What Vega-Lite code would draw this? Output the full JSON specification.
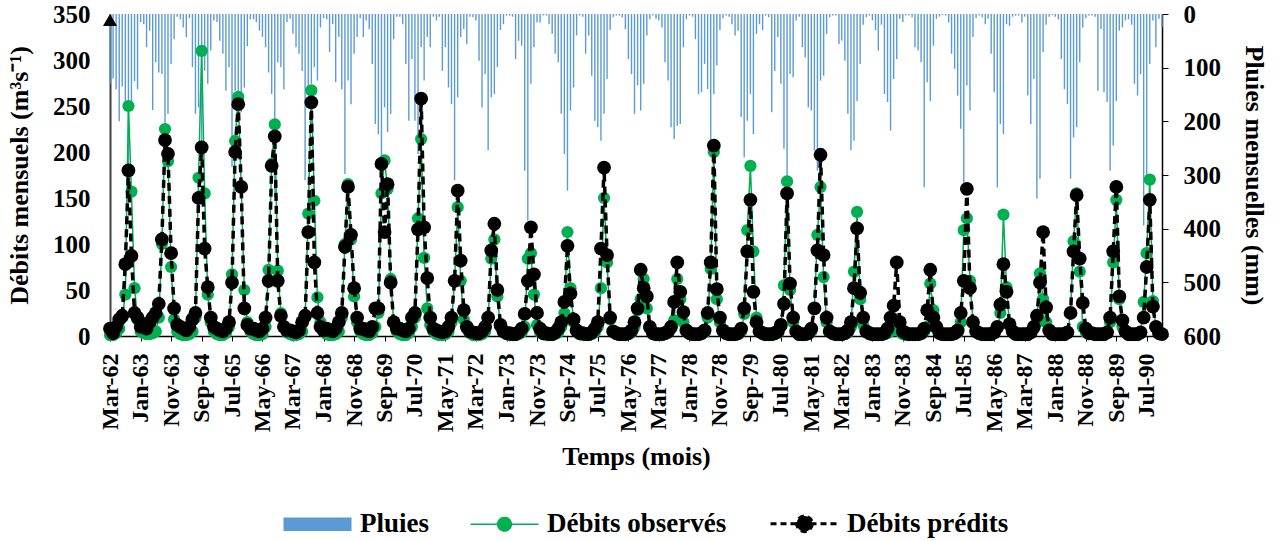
{
"$schema":"https://vega.github.io/schema/vega-lite/v6.json",
"width":1052,"height":322,
"autosize":{"type":"none"},
"padding":{"left":110,"top":14,"right":119,"bottom":205},
"background":"#ffffff",
"config":{"view":{"stroke":null},"font":"Liberation Serif","axis":{"grid":false,"labelFont":"Liberation Serif","titleFont":"Liberation Serif","labelFontWeight":"bold","titleFontWeight":"bold","labelColor":"#000000","titleColor":"#000000"}},
"data":{"values":[
{"d":"1962-03","r":130,"o":1,"s":8},{"d":"1962-04","r":120,"o":1,"s":3},{"d":"1962-05","r":140,"o":3,"s":10},{"d":"1962-06","r":200,"o":8,"s":18},{"d":"1962-07","r":135,"o":20,"s":22},{"d":"1962-08","r":165,"o":45,"s":78},{"d":"1962-09","r":285,"o":250,"s":180},{"d":"1962-10","r":165,"o":157,"s":87},{"d":"1962-11","r":125,"o":52,"s":25},{"d":"1962-12","r":140,"o":18,"s":20},
{"d":"1963-01","r":15,"o":5,"s":10},{"d":"1963-02","r":19,"o":3,"s":12},{"d":"1963-03","r":62,"o":2,"s":8},{"d":"1963-04","r":31,"o":2,"s":15},{"d":"1963-05","r":179,"o":3,"s":20},{"d":"1963-06","r":90,"o":5,"s":25},{"d":"1963-07","r":109,"o":20,"s":35},{"d":"1963-08","r":112,"o":100,"s":105},{"d":"1963-09","r":292,"o":225,"s":213},{"d":"1963-10","r":186,"o":190,"s":198},{"d":"1963-11","r":93,"o":75,"s":90},{"d":"1963-12","r":47,"o":18,"s":30},
{"d":"1964-01","r":5,"o":5,"s":12},{"d":"1964-02","r":10,"o":2,"s":10},{"d":"1964-03","r":25,"o":1,"s":8},{"d":"1964-04","r":43,"o":1,"s":6},{"d":"1964-05","r":8,"o":2,"s":10},{"d":"1964-06","r":99,"o":5,"s":18},{"d":"1964-07","r":186,"o":20,"s":25},{"d":"1964-08","r":174,"o":172,"s":150},{"d":"1964-09","r":242,"o":310,"s":205},{"d":"1964-10","r":106,"o":155,"s":95},{"d":"1964-11","r":130,"o":45,"s":53},{"d":"1964-12","r":68,"o":15,"s":20},
{"d":"1965-01","r":12,"o":5,"s":10},{"d":"1965-02","r":15,"o":2,"s":8},{"d":"1965-03","r":50,"o":1,"s":6},{"d":"1965-04","r":74,"o":1,"s":5},{"d":"1965-05","r":143,"o":3,"s":8},{"d":"1965-06","r":99,"o":10,"s":15},{"d":"1965-07","r":285,"o":67,"s":58},{"d":"1965-08","r":143,"o":212,"s":200},{"d":"1965-09","r":199,"o":260,"s":252},{"d":"1965-10","r":183,"o":162,"s":162},{"d":"1965-11","r":137,"o":50,"s":30},{"d":"1965-12","r":60,"o":15,"s":12},
{"d":"1966-01","r":10,"o":5,"s":8},{"d":"1966-02","r":10,"o":2,"s":8},{"d":"1966-03","r":15,"o":1,"s":6},{"d":"1966-04","r":31,"o":1,"s":5},{"d":"1966-05","r":43,"o":2,"s":8},{"d":"1966-06","r":62,"o":10,"s":20},{"d":"1966-07","r":109,"o":72,"s":60},{"d":"1966-08","r":149,"o":187,"s":185},{"d":"1966-09","r":341,"o":230,"s":217},{"d":"1966-10","r":90,"o":71,"s":60},{"d":"1966-11","r":99,"o":25,"s":22},{"d":"1966-12","r":140,"o":10,"s":10},
{"d":"1967-01","r":15,"o":4,"s":6},{"d":"1967-02","r":9,"o":2,"s":6},{"d":"1967-03","r":37,"o":1,"s":5},{"d":"1967-04","r":62,"o":1,"s":4},{"d":"1967-05","r":74,"o":2,"s":6},{"d":"1967-06","r":106,"o":5,"s":15},{"d":"1967-07","r":310,"o":20,"s":22},{"d":"1967-08","r":137,"o":133,"s":113},{"d":"1967-09","r":130,"o":267,"s":254},{"d":"1967-10","r":99,"o":147,"s":80},{"d":"1967-11","r":124,"o":42,"s":25},{"d":"1967-12","r":25,"o":15,"s":10},
{"d":"1968-01","r":8,"o":5,"s":6},{"d":"1968-02","r":10,"o":2,"s":8},{"d":"1968-03","r":71,"o":1,"s":6},{"d":"1968-04","r":19,"o":1,"s":5},{"d":"1968-05","r":127,"o":2,"s":8},{"d":"1968-06","r":43,"o":5,"s":15},{"d":"1968-07","r":140,"o":20,"s":25},{"d":"1968-08","r":298,"o":100,"s":97},{"d":"1968-09","r":124,"o":165,"s":162},{"d":"1968-10","r":168,"o":105,"s":110},{"d":"1968-11","r":74,"o":43,"s":52},{"d":"1968-12","r":43,"o":15,"s":20},
{"d":"1969-01","r":8,"o":5,"s":8},{"d":"1969-02","r":43,"o":2,"s":8},{"d":"1969-03","r":12,"o":1,"s":6},{"d":"1969-04","r":28,"o":1,"s":5},{"d":"1969-05","r":93,"o":3,"s":10},{"d":"1969-06","r":205,"o":10,"s":30},{"d":"1969-07","r":224,"o":25,"s":30},{"d":"1969-08","r":264,"o":155,"s":187},{"d":"1969-09","r":174,"o":191,"s":113},{"d":"1969-10","r":220,"o":160,"s":165},{"d":"1969-11","r":186,"o":62,"s":58},{"d":"1969-12","r":47,"o":15,"s":15},
{"d":"1970-01","r":5,"o":5,"s":8},{"d":"1970-02","r":5,"o":2,"s":8},{"d":"1970-03","r":19,"o":1,"s":6},{"d":"1970-04","r":93,"o":1,"s":5},{"d":"1970-05","r":199,"o":3,"s":8},{"d":"1970-06","r":84,"o":10,"s":20},{"d":"1970-07","r":199,"o":20,"s":25},{"d":"1970-08","r":261,"o":128,"s":116},{"d":"1970-09","r":62,"o":214,"s":258},{"d":"1970-10","r":124,"o":85,"s":118},{"d":"1970-11","r":43,"o":30,"s":63},{"d":"1970-12","r":62,"o":12,"s":20},
{"d":"1971-01","r":5,"o":5,"s":8},{"d":"1971-02","r":12,"o":2,"s":6},{"d":"1971-03","r":5,"o":1,"s":5},{"d":"1971-04","r":106,"o":1,"s":4},{"d":"1971-05","r":62,"o":2,"s":5},{"d":"1971-06","r":137,"o":5,"s":10},{"d":"1971-07","r":168,"o":15,"s":20},{"d":"1971-08","r":310,"o":60,"s":60},{"d":"1971-09","r":155,"o":140,"s":158},{"d":"1971-10","r":43,"o":60,"s":82},{"d":"1971-11","r":28,"o":18,"s":28},{"d":"1971-12","r":56,"o":8,"s":10},
{"d":"1972-01","r":5,"o":3,"s":5},{"d":"1972-02","r":6,"o":1,"s":4},{"d":"1972-03","r":12,"o":1,"s":3},{"d":"1972-04","r":87,"o":1,"s":3},{"d":"1972-05","r":174,"o":2,"s":5},{"d":"1972-06","r":112,"o":5,"s":10},{"d":"1972-07","r":254,"o":20,"s":20},{"d":"1972-08","r":155,"o":84,"s":93},{"d":"1972-09","r":149,"o":105,"s":122},{"d":"1972-10","r":99,"o":43,"s":50},{"d":"1972-11","r":30,"o":10,"s":12},{"d":"1972-12","r":19,"o":5,"s":5},
{"d":"1973-01","r":3,"o":2,"s":3},{"d":"1973-02","r":3,"o":1,"s":3},{"d":"1973-03","r":5,"o":1,"s":2},{"d":"1973-04","r":84,"o":1,"s":2},{"d":"1973-05","r":50,"o":2,"s":4},{"d":"1973-06","r":59,"o":4,"s":8},{"d":"1973-07","r":292,"o":10,"s":24},{"d":"1973-08","r":385,"o":84,"s":60},{"d":"1973-09","r":130,"o":90,"s":118},{"d":"1973-10","r":62,"o":45,"s":67},{"d":"1973-11","r":16,"o":12,"s":25},{"d":"1973-12","r":16,"o":4,"s":8},
{"d":"1974-01","r":3,"o":2,"s":3},{"d":"1974-02","r":3,"o":1,"s":3},{"d":"1974-03","r":19,"o":1,"s":2},{"d":"1974-04","r":37,"o":1,"s":2},{"d":"1974-05","r":74,"o":2,"s":4},{"d":"1974-06","r":90,"o":4,"s":8},{"d":"1974-07","r":186,"o":10,"s":15},{"d":"1974-08","r":261,"o":25,"s":37},{"d":"1974-09","r":329,"o":113,"s":98},{"d":"1974-10","r":180,"o":52,"s":46},{"d":"1974-11","r":137,"o":15,"s":18},{"d":"1974-12","r":40,"o":5,"s":6},
{"d":"1975-01","r":3,"o":2,"s":3},{"d":"1975-02","r":5,"o":1,"s":3},{"d":"1975-03","r":74,"o":1,"s":2},{"d":"1975-04","r":40,"o":1,"s":2},{"d":"1975-05","r":115,"o":2,"s":4},{"d":"1975-06","r":199,"o":4,"s":8},{"d":"1975-07","r":211,"o":10,"s":15},{"d":"1975-08","r":236,"o":52,"s":95},{"d":"1975-09","r":186,"o":150,"s":183},{"d":"1975-10","r":121,"o":80,"s":88},{"d":"1975-11","r":30,"o":18,"s":20},{"d":"1975-12","r":6,"o":5,"s":5},
{"d":"1976-01","r":3,"o":2,"s":3},{"d":"1976-02","r":3,"o":1,"s":2},{"d":"1976-03","r":6,"o":1,"s":2},{"d":"1976-04","r":28,"o":1,"s":2},{"d":"1976-05","r":84,"o":2,"s":3},{"d":"1976-06","r":112,"o":4,"s":6},{"d":"1976-07","r":186,"o":10,"s":15},{"d":"1976-08","r":133,"o":28,"s":30},{"d":"1976-09","r":180,"o":40,"s":72},{"d":"1976-10","r":130,"o":62,"s":52},{"d":"1976-11","r":40,"o":30,"s":43},{"d":"1976-12","r":10,"o":8,"s":10},
{"d":"1977-01","r":3,"o":2,"s":3},{"d":"1977-02","r":9,"o":1,"s":2},{"d":"1977-03","r":12,"o":1,"s":2},{"d":"1977-04","r":25,"o":1,"s":2},{"d":"1977-05","r":90,"o":2,"s":3},{"d":"1977-06","r":124,"o":3,"s":5},{"d":"1977-07","r":211,"o":8,"s":10},{"d":"1977-08","r":233,"o":17,"s":37},{"d":"1977-09","r":208,"o":62,"s":80},{"d":"1977-10","r":205,"o":40,"s":48},{"d":"1977-11","r":62,"o":15,"s":26},{"d":"1977-12","r":10,"o":5,"s":6},
{"d":"1978-01","r":3,"o":2,"s":3},{"d":"1978-02","r":5,"o":1,"s":2},{"d":"1978-03","r":47,"o":1,"s":2},{"d":"1978-04","r":149,"o":1,"s":2},{"d":"1978-05","r":146,"o":2,"s":3},{"d":"1978-06","r":93,"o":4,"s":6},{"d":"1978-07","r":140,"o":20,"s":25},{"d":"1978-08","r":242,"o":73,"s":80},{"d":"1978-09","r":149,"o":200,"s":207},{"d":"1978-10","r":96,"o":40,"s":51},{"d":"1978-11","r":30,"o":15,"s":20},{"d":"1978-12","r":8,"o":5,"s":6},
{"d":"1979-01","r":3,"o":2,"s":3},{"d":"1979-02","r":5,"o":1,"s":2},{"d":"1979-03","r":19,"o":1,"s":2},{"d":"1979-04","r":40,"o":1,"s":2},{"d":"1979-05","r":31,"o":2,"s":3},{"d":"1979-06","r":192,"o":5,"s":8},{"d":"1979-07","r":267,"o":24,"s":30},{"d":"1979-08","r":199,"o":115,"s":92},{"d":"1979-09","r":149,"o":185,"s":148},{"d":"1979-10","r":224,"o":92,"s":48},{"d":"1979-11","r":37,"o":20,"s":15},{"d":"1979-12","r":19,"o":5,"s":5},
{"d":"1980-01","r":30,"o":2,"s":3},{"d":"1980-02","r":3,"o":1,"s":2},{"d":"1980-03","r":6,"o":1,"s":2},{"d":"1980-04","r":183,"o":1,"s":2},{"d":"1980-05","r":106,"o":2,"s":3},{"d":"1980-06","r":43,"o":3,"s":5},{"d":"1980-07","r":130,"o":10,"s":12},{"d":"1980-08","r":251,"o":55,"s":35},{"d":"1980-09","r":372,"o":168,"s":155},{"d":"1980-10","r":112,"o":50,"s":57},{"d":"1980-11","r":118,"o":15,"s":20},{"d":"1980-12","r":12,"o":5,"s":5},
{"d":"1981-01","r":5,"o":1,"s":2},{"d":"1981-02","r":62,"o":1,"s":2},{"d":"1981-03","r":81,"o":1,"s":2},{"d":"1981-04","r":174,"o":2,"s":3},{"d":"1981-05","r":180,"o":5,"s":8},{"d":"1981-06","r":254,"o":30,"s":30},{"d":"1981-07","r":292,"o":110,"s":93},{"d":"1981-08","r":124,"o":162,"s":197},{"d":"1981-09","r":115,"o":64,"s":88},{"d":"1981-10","r":37,"o":15,"s":20},{"d":"1981-11","r":6,"o":5,"s":5},{"d":"1981-12","r":3,"o":2,"s":3},
{"d":"1982-01","r":3,"o":1,"s":2},{"d":"1982-02","r":56,"o":1,"s":2},{"d":"1982-03","r":50,"o":1,"s":2},{"d":"1982-04","r":87,"o":2,"s":3},{"d":"1982-05","r":186,"o":4,"s":6},{"d":"1982-06","r":254,"o":10,"s":15},{"d":"1982-07","r":236,"o":70,"s":52},{"d":"1982-08","r":162,"o":135,"s":117},{"d":"1982-09","r":93,"o":40,"s":47},{"d":"1982-10","r":20,"o":12,"s":20},{"d":"1982-11","r":6,"o":4,"s":5},{"d":"1982-12","r":3,"o":2,"s":3},
{"d":"1983-01","r":12,"o":1,"s":2},{"d":"1983-02","r":30,"o":1,"s":2},{"d":"1983-03","r":68,"o":1,"s":2},{"d":"1983-04","r":20,"o":1,"s":2},{"d":"1983-05","r":149,"o":2,"s":3},{"d":"1983-06","r":164,"o":3,"s":8},{"d":"1983-07","r":217,"o":5,"s":20},{"d":"1983-08","r":121,"o":10,"s":33},{"d":"1983-09","r":84,"o":18,"s":80},{"d":"1983-10","r":9,"o":5,"s":15},{"d":"1983-11","r":15,"o":2,"s":5},{"d":"1983-12","r":3,"o":1,"s":3},
{"d":"1984-01","r":3,"o":1,"s":2},{"d":"1984-02","r":6,"o":1,"s":2},{"d":"1984-03","r":62,"o":1,"s":2},{"d":"1984-04","r":68,"o":1,"s":2},{"d":"1984-05","r":90,"o":2,"s":3},{"d":"1984-06","r":323,"o":5,"s":8},{"d":"1984-07","r":127,"o":10,"s":28},{"d":"1984-08","r":162,"o":57,"s":72},{"d":"1984-09","r":59,"o":28,"s":20},{"d":"1984-10","r":9,"o":8,"s":10},{"d":"1984-11","r":5,"o":3,"s":3},{"d":"1984-12","r":2,"o":1,"s":2},
{"d":"1985-01","r":3,"o":1,"s":2},{"d":"1985-02","r":16,"o":1,"s":2},{"d":"1985-03","r":74,"o":1,"s":2},{"d":"1985-04","r":102,"o":2,"s":3},{"d":"1985-05","r":152,"o":4,"s":6},{"d":"1985-06","r":214,"o":15,"s":25},{"d":"1985-07","r":314,"o":115,"s":60},{"d":"1985-08","r":133,"o":128,"s":160},{"d":"1985-09","r":180,"o":60,"s":52},{"d":"1985-10","r":43,"o":15,"s":15},{"d":"1985-11","r":8,"o":5,"s":5},{"d":"1985-12","r":3,"o":2,"s":3},
{"d":"1986-01","r":6,"o":1,"s":2},{"d":"1986-02","r":19,"o":1,"s":2},{"d":"1986-03","r":9,"o":1,"s":2},{"d":"1986-04","r":74,"o":1,"s":2},{"d":"1986-05","r":146,"o":3,"s":4},{"d":"1986-06","r":323,"o":8,"s":10},{"d":"1986-07","r":205,"o":25,"s":34},{"d":"1986-08","r":224,"o":132,"s":78},{"d":"1986-09","r":19,"o":53,"s":48},{"d":"1986-10","r":22,"o":12,"s":13},{"d":"1986-11","r":5,"o":4,"s":5},{"d":"1986-12","r":3,"o":2,"s":2},
{"d":"1987-01","r":3,"o":1,"s":2},{"d":"1987-02","r":16,"o":1,"s":2},{"d":"1987-03","r":5,"o":1,"s":2},{"d":"1987-04","r":152,"o":1,"s":2},{"d":"1987-05","r":205,"o":3,"s":4},{"d":"1987-06","r":121,"o":8,"s":10},{"d":"1987-07","r":344,"o":15,"s":22},{"d":"1987-08","r":307,"o":68,"s":58},{"d":"1987-09","r":71,"o":40,"s":113},{"d":"1987-10","r":20,"o":15,"s":31},{"d":"1987-11","r":5,"o":5,"s":6},{"d":"1987-12","r":2,"o":2,"s":2},
{"d":"1988-01","r":5,"o":1,"s":2},{"d":"1988-02","r":10,"o":1,"s":2},{"d":"1988-03","r":84,"o":1,"s":2},{"d":"1988-04","r":140,"o":1,"s":2},{"d":"1988-05","r":168,"o":3,"s":4},{"d":"1988-06","r":307,"o":25,"s":25},{"d":"1988-07","r":230,"o":103,"s":92},{"d":"1988-08","r":211,"o":155,"s":153},{"d":"1988-09","r":90,"o":70,"s":84},{"d":"1988-10","r":25,"o":10,"s":36},{"d":"1988-11","r":8,"o":4,"s":8},{"d":"1988-12","r":3,"o":2,"s":3},
{"d":"1989-01","r":3,"o":2,"s":3},{"d":"1989-02","r":5,"o":1,"s":2},{"d":"1989-03","r":143,"o":1,"s":2},{"d":"1989-04","r":28,"o":1,"s":2},{"d":"1989-05","r":146,"o":1,"s":2},{"d":"1989-06","r":164,"o":3,"s":4},{"d":"1989-07","r":292,"o":15,"s":20},{"d":"1989-08","r":245,"o":80,"s":92},{"d":"1989-09","r":162,"o":148,"s":162},{"d":"1989-10","r":31,"o":40,"s":43},{"d":"1989-11","r":25,"o":10,"s":17},{"d":"1989-12","r":12,"o":4,"s":5},
{"d":"1990-01","r":10,"o":1,"s":2},{"d":"1990-02","r":20,"o":1,"s":2},{"d":"1990-03","r":130,"o":1,"s":2},{"d":"1990-04","r":152,"o":1,"s":2},{"d":"1990-05","r":112,"o":3,"s":4},{"d":"1990-06","r":394,"o":37,"s":20},{"d":"1990-07","r":304,"o":90,"s":75},{"d":"1990-08","r":93,"o":170,"s":148},{"d":"1990-09","r":12,"o":38,"s":32},{"d":"1990-10","r":62,"o":10,"s":10},{"d":"1990-11","r":9,"o":4,"s":3},{"d":"1990-12","r":25,"o":2,"s":2}
]},
"encoding":{
 "x":{"field":"d","type":"temporal",
  "scale":{"type":"utc","nice":false,"domain":[{"year":1962,"month":3,"date":1,"utc":true},{"year":1990,"month":12,"date":1,"utc":true}]},
  "axis":{"title":"Temps (mois)","format":"%b-%y","labelAngle":-90,"labelFontSize":24,"titleFontSize":26,"labelPadding":12,"tickSize":5,"tickColor":"#000000","domainColor":"#000000","domainWidth":1.5,"titlePadding":12,"labelOverlap":false,"labelFlush":false,
   "values":[{"year":1962,"month":3,"date":1,"utc":true},{"year":1963,"month":1,"date":1,"utc":true},{"year":1963,"month":11,"date":1,"utc":true},{"year":1964,"month":9,"date":1,"utc":true},{"year":1965,"month":7,"date":1,"utc":true},{"year":1966,"month":5,"date":1,"utc":true},{"year":1967,"month":3,"date":1,"utc":true},{"year":1968,"month":1,"date":1,"utc":true},{"year":1968,"month":11,"date":1,"utc":true},{"year":1969,"month":9,"date":1,"utc":true},{"year":1970,"month":7,"date":1,"utc":true},{"year":1971,"month":5,"date":1,"utc":true},{"year":1972,"month":3,"date":1,"utc":true},{"year":1973,"month":1,"date":1,"utc":true},{"year":1973,"month":11,"date":1,"utc":true},{"year":1974,"month":9,"date":1,"utc":true},{"year":1975,"month":7,"date":1,"utc":true},{"year":1976,"month":5,"date":1,"utc":true},{"year":1977,"month":3,"date":1,"utc":true},{"year":1978,"month":1,"date":1,"utc":true},{"year":1978,"month":11,"date":1,"utc":true},{"year":1979,"month":9,"date":1,"utc":true},{"year":1980,"month":7,"date":1,"utc":true},{"year":1981,"month":5,"date":1,"utc":true},{"year":1982,"month":3,"date":1,"utc":true},{"year":1983,"month":1,"date":1,"utc":true},{"year":1983,"month":11,"date":1,"utc":true},{"year":1984,"month":9,"date":1,"utc":true},{"year":1985,"month":7,"date":1,"utc":true},{"year":1986,"month":5,"date":1,"utc":true},{"year":1987,"month":3,"date":1,"utc":true},{"year":1988,"month":1,"date":1,"utc":true},{"year":1988,"month":11,"date":1,"utc":true},{"year":1989,"month":9,"date":1,"utc":true},{"year":1990,"month":7,"date":1,"utc":true}]}}
},
"resolve":{"scale":{"y":"independent"}},
"layer":[
  {"mark":{"type":"rule","strokeWidth":1.4},
   "encoding":{
    "y":{"field":"r","type":"quantitative","scale":{"domain":[0,600],"reverse":true,"nice":false},
     "axis":{"orient":"right","title":"Pluies mensuelles (mm)","values":[0,100,200,300,400,500,600],"labelFontSize":25,"titleFontSize":26,"tickSize":6,"tickColor":"#000000","domainColor":"#000000","domainWidth":1.5,"labelPadding":15,"titlePadding":20}},
    "y2":{"datum":0},
    "color":{"datum":"Pluies","type":"nominal",
     "scale":{"domain":["Pluies","Débits observés","Débits prédits"],"range":["#5B9BD5","#00B050","#000000"]},
     "legend":{"orient":"none","legendX":173,"legendY":496,"direction":"horizontal","title":null,
      "labelFont":"Liberation Serif","labelFontWeight":"bold","labelFontSize":27,"labelColor":"#000000","labelLimit":400,
      "symbolSize":4624,"symbolOffset":21,"labelOffset":29,"columnPadding":37,"padding":0,"symbolStrokeWidth":2,
      "encode":{"symbols":{"update":{
       "shape":{"signal":"datum.value === 'Pluies' ? 'M-1,-0.2H1V0.2H-1Z' : datum.value === 'Débits observés' ? 'M-1,0H1M0.2,0A0.2,0.2,0,1,1,-0.2,0A0.2,0.2,0,1,1,0.2,0Z' : 'M-1,0H1M0.23,0A0.23,0.23,0,1,1,-0.23,0A0.23,0.23,0,1,1,0.23,0Z'"},
       "fill":{"signal":"datum.value === 'Pluies' ? '#5B9BD5' : datum.value === 'Débits observés' ? '#00B050' : '#000000'"},
       "stroke":{"signal":"datum.value === 'Pluies' ? '#5B9BD5' : datum.value === 'Débits observés' ? '#00B050' : '#000000'"},
       "strokeWidth":{"signal":"datum.value === 'Débits prédits' ? 3 : datum.value === 'Pluies' ? 0 : 1.5"},
       "strokeDash":{"signal":"datum.value === 'Débits prédits' ? [6,4] : [1,0]"},
       "size":{"value":4624},
       "opacity":{"value":1},
       "fillOpacity":{"value":1},
       "strokeOpacity":{"value":1}
      }}}}}
   }},
 {"layer":[
  {"mark":{"type":"line","strokeWidth":1.5,"point":{"filled":true,"size":150,"opacity":1}},
   "encoding":{
    "y":{"field":"o","type":"quantitative","scale":{"domain":[0,350],"nice":false},
     "axis":{"orient":"left","title":"Débits mensuels (m³s⁻¹)","values":[0,50,100,150,200,250,300,350],"labelFontSize":25,"titleFontSize":26,"ticks":false,"labelPadding":20,"domainColor":"#404040","domainWidth":2,"titlePadding":20}},
    "color":{"datum":"Débits observés","type":"nominal"}
   }},
  {"mark":{"type":"line","strokeWidth":3.5,"strokeDash":[8,5],"point":{"filled":true,"size":190,"opacity":1}},
   "encoding":{
    "y":{"field":"s","type":"quantitative",
     "axis":{"orient":"left","title":"Débits mensuels (m³s⁻¹)","values":[0,50,100,150,200,250,300,350],"labelFontSize":25,"titleFontSize":26,"ticks":false,"labelPadding":20,"domainColor":"#404040","domainWidth":2,"titlePadding":20}},
    "color":{"datum":"Débits prédits","type":"nominal"}
   }},
  {"transform":[{"filter":"utcyear(datum.d) === 1962 && utcmonth(datum.d) === 2"}],
   "mark":{"type":"point","shape":"triangle-up","filled":true,"size":196,"color":"#000000","opacity":1,"yOffset":6},
   "encoding":{
    "y":{"datum":350,"type":"quantitative",
     "axis":{"orient":"left","title":"Débits mensuels (m³s⁻¹)","values":[0,50,100,150,200,250,300,350],"labelFontSize":25,"titleFontSize":26,"ticks":false,"labelPadding":20,"domainColor":"#404040","domainWidth":2,"titlePadding":20}}
   }}
 ]}
]
}
